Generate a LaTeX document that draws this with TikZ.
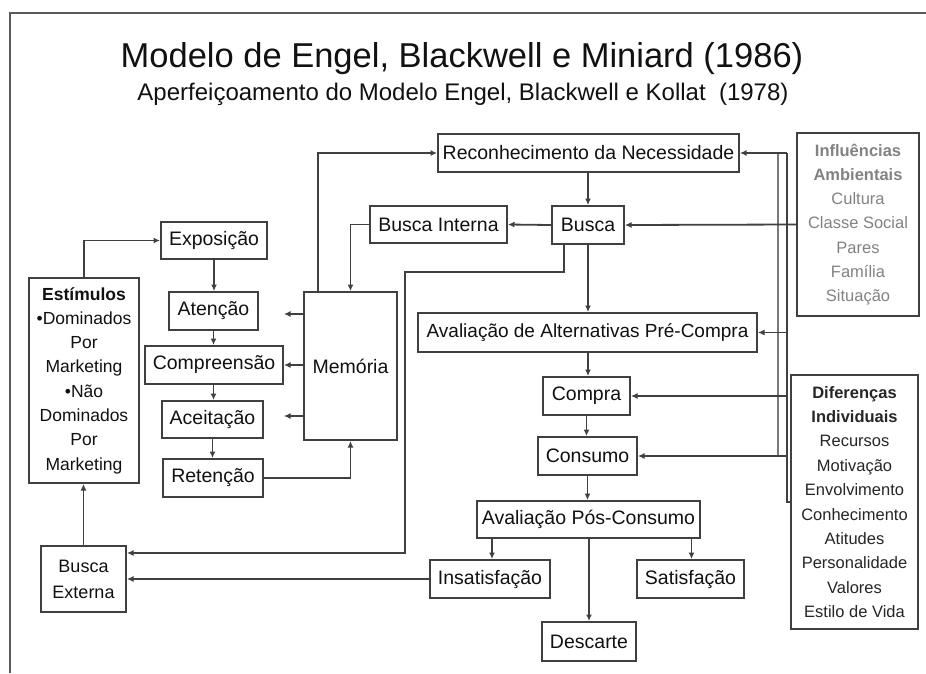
\documentclass[tikz,border=0pt]{standalone}
\usepackage{fontspec}
\setmainfont{Liberation Sans}
\usetikzlibrary{arrows.meta}
\definecolor{linec}{HTML}{404040}
\definecolor{txtc}{HTML}{111111}
\definecolor{inflc}{HTML}{828282}
\definecolor{difc}{HTML}{262626}
\definecolor{framec}{HTML}{5A5A5A}
\begin{document}
\begin{tikzpicture}[x=1pt,y=-1pt,
  box/.style={draw=linec,line width=2pt,inner sep=0pt,text=txtc,
    font=\fontsize{19.5}{23}\selectfont,align=center},
  side/.style={draw=linec,line width=2pt,inner sep=0pt,align=center},
  conn/.style={draw=linec,line width=1.8pt},
  arr/.style={conn,-{Latex[length=6.5pt,width=6pt]}},
  thinbus/.style={draw=linec!70,line width=1.5pt}]
\useasboundingbox (0,0) rectangle (926,673);
\fill[white] (0,0) rectangle (926,673);
\draw[framec,line width=2.4pt] (10,673) -- (10,13) -- (926,13);

% titles
\node[anchor=base,text=txtc,font=\fontsize{34.5}{40}\selectfont] (title) at (462,67) {Modelo de Engel, Blackwell e Miniard (1986)};
\node[anchor=base,text=txtc,font=\fontsize{24}{28}\selectfont] (sub) at (463,100) {Aperfeiçoamento do Modelo Engel, Blackwell e Kollat\ \ (1978)};

% boxes
\node[box,minimum width=301pt,minimum height=38pt] (rec) at (588.5,153) {Reconhecimento da Necessidade};
\node[box,minimum width=137pt,minimum height=37pt] (bint) at (438.5,224.5) {Busca Interna};
\node[box,minimum width=72pt,minimum height=38pt] (busca) at (588,225) {Busca};
\node[box,minimum width=106pt,minimum height=37pt] (expo) at (214,240.5) {Exposição};
\node[side,minimum width=110pt,minimum height=205pt,text=txtc,font=\fontsize{17.5}{24.3}\selectfont] (estim) at (84,380.5)
  {\textbf{Estímulos}\\•Dominados\\Por\\Marketing\\•Não\\Dominados\\Por\\Marketing};
\node[box,minimum width=89pt,minimum height=38pt] (aten) at (213.5,311) {Atenção};
\node[box,minimum width=93pt,minimum height=148pt] (mem) at (350.5,366) {Memória};
\node[box,minimum width=138pt,minimum height=38pt] (comp) at (214,365) {Compreensão};
\node[box,minimum width=101pt,minimum height=37pt] (acei) at (212.5,419.5) {Aceitação};
\node[box,minimum width=100pt,minimum height=38pt] (ret) at (213,478) {Retenção};
\node[box,minimum width=339pt,minimum height=39pt,font=\fontsize{19}{23}\selectfont] (avpre) at (587.5,332.5) {Avaliação de Alternativas Pré-Compra};
\node[box,minimum width=87pt,minimum height=38pt] (compra) at (586.5,396) {Compra};
\node[box,minimum width=99pt,minimum height=38pt] (cons) at (587.5,456) {Consumo};
\node[box,minimum width=223pt,minimum height=37pt] (avpos) at (588.5,519.5) {Avaliação Pós-Consumo};
\node[box,minimum width=120pt,minimum height=38pt] (insat) at (490,579) {Insatisfação};
\node[box,minimum width=107pt,minimum height=38pt] (satis) at (690.5,579) {Satisfação};
\node[box,minimum width=94pt,minimum height=39pt] (desc) at (589,641.5) {Descarte};
\node[box,minimum width=85pt,minimum height=66pt,font=\fontsize{18}{26}\selectfont] (bext) at (83.5,579) {Busca\\Externa};
\node[side,minimum width=122pt,minimum height=183pt,text=inflc,font=\fontsize{16.5}{24.3}\selectfont] (infl) at (858,224.5)
  {\textbf{Influências}\\\textbf{Ambientais}\\Cultura\\Classe Social\\Pares\\Família\\Situação};
\node[side,minimum width=127pt,minimum height=254pt,text=difc,font=\fontsize{16.5}{24.4}\selectfont] (dif) at (854.5,502)
  {\textbf{Diferenças}\\\textbf{Individuais}\\Recursos\\Motivação\\Envolvimento\\Conhecimento\\Atitudes\\Personalidade\\Valores\\Estilo de Vida};

% free ends / bends
\coordinate (m1) at (284,314);
\coordinate (m3) at (284,416);
\coordinate (k1) at (564,272);
\coordinate (k2) at (405,272);
\coordinate (rt) at (787,153);
\coordinate (lt) at (778,153);
\coordinate (lb) at (778,456);

% left chain
\draw[arr] (estim.north) |- (expo.west);
\draw[arr] (expo.south) -- (expo.south |- aten.north);
\draw[arr] (aten.south) -- (aten.south |- comp.north);
\draw[arr] (comp.south -| aten.south) -- (aten.south |- acei.north);
\draw[arr] (acei.south) -- (acei.south |- ret.north);
\draw[arr] (mem.west |- m1) -- (m1);
\draw[arr] (mem.west |- comp.east) -- (comp.east);
\draw[arr] (mem.west |- m3) -- (m3);
\draw[arr] (ret.east) -| (mem.south);
\draw[arr] ([xshift=-32.5pt]mem.north) |- (rec.west);
\draw[arr] (bint.west) -| (mem.north);
\draw[arr] (busca.west) -- (bint.east);
\draw[arr] (rec.south -| busca.north) -- (busca.north);
\draw[arr] (busca.south) -- (busca.south |- avpre.north);
\draw[arr] ([xshift=-24pt]busca.south) -- (k1) -- (k2) |- ([yshift=26pt]bext.east);
\draw[arr] (insat.west) -- (insat.west -| bext.east);
\draw[arr] (bext.north) -- (bext.north |- estim.south);

% central chain
\draw[arr] (avpre.south -| busca.south) -- (busca.south |- compra.north);
\draw[arr] (compra.south) -- (compra.south |- cons.north);
\draw[arr] (cons.south) -- (cons.south |- avpos.north);
\draw[arr] ([xshift=2pt]insat.north |- avpos.south) -- ([xshift=2pt]insat.north);
\draw[arr] ([xshift=1pt]satis.north |- avpos.south) -- ([xshift=1pt]satis.north);
\draw[arr] (desc.north |- avpos.south) -- (desc.north);

% right influences
\draw[thinbus] (lt) -- (lb);
\draw[conn] (dif.west) -| (rt);
\draw[arr] (rt) -- (rec.east);
\draw[arr] (infl.west) -- (busca.east);
\draw[arr] (rt |- avpre.east) -- (avpre.east);
\draw[arr] (rt |- compra.east) -- (compra.east);
\draw[arr] (rt |- cons.east) -- (cons.east);
\end{tikzpicture}
\end{document}
